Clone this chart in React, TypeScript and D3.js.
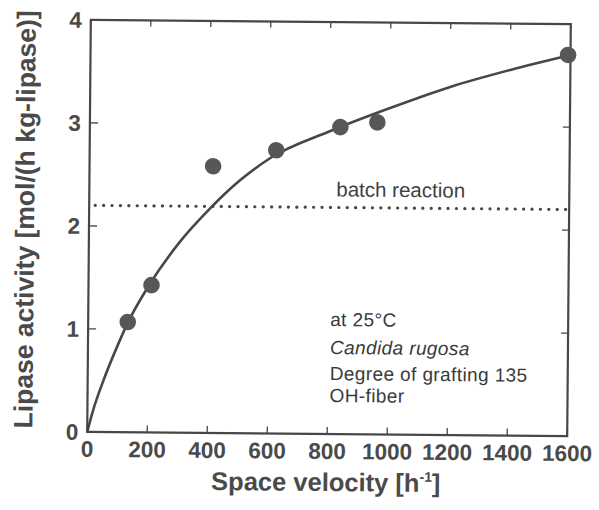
import React from 'react';
import * as d3 from 'd3';

const W = 599;
const H = 510;

// measured points (space velocity h^-1, lipase activity)
const pointX = [132, 210, 412, 622, 835, 958, 1592];
const pointY = [1.07, 1.43, 2.59, 2.75, 2.98, 3.03, 3.7];

// fitted curve
const curveX = [0, 20, 50, 100, 130, 200, 300, 400, 500, 600, 800, 1000, 1200, 1400, 1600];
const curveY = [0, 0.22, 0.48, 0.85, 1.05, 1.42, 1.84, 2.17, 2.45, 2.67, 2.94, 3.17, 3.38, 3.55, 3.7];

const batchLevel = 2.2;

const xTicks = [0, 200, 400, 600, 800, 1000, 1200, 1400, 1600];
const yTicks = [0, 1, 2, 3, 4];

const notes = ['at 25\u00B0C', 'Candida rugosa', 'Degree of grafting 135', 'OH-fiber'];
const noteY = [326, 354, 380, 402];

const m = { left: 89, right: 569, top: 22, bottom: 434 };
const ink = '#474747';
const font = '"Liberation Sans", Arial, Helvetica, sans-serif';

export default function App() {
  const x = d3.scaleLinear().domain([0, 1600]).range([m.left, m.right]);
  const y = d3.scaleLinear().domain([0, 4]).range([m.bottom, m.top]);

  const line = d3.line<number>()
    .x((d, i) => x(curveX[i]))
    .y(d => y(d))
    .curve(d3.curveMonotoneX);

  const cx = (m.left + m.right) / 2;
  const cy = (m.top + m.bottom) / 2;

  return (
    <svg width={W} height={H} style={{ position: 'absolute', left: 0, top: 0, background: '#fff' }}
      fontFamily={font}>
      <g transform={`rotate(0.5 ${cx} ${cy})`}>
        {/* frame */}
        <rect x={m.left} y={m.top} width={m.right - m.left} height={m.bottom - m.top}
          fill="none" stroke={ink} strokeWidth={2.2} />

        {/* x ticks, bottom and top, inside */}
        {xTicks.map(t => (
          <g key={'xt' + t}>
            <line x1={x(t)} x2={x(t)} y1={m.bottom} y2={m.bottom - 7} stroke={ink} strokeWidth={1.3} />
            <line x1={x(t)} x2={x(t)} y1={m.top} y2={m.top + 6} stroke={ink} strokeWidth={1.3} />
            <text x={x(t)} y={459} textAnchor="middle" fontSize={22.5} fontWeight="bold" fill="#4a4a4a">{t}</text>
          </g>
        ))}

        {/* y ticks, left and right, inside */}
        {yTicks.map(t => (
          <g key={'yt' + t}>
            <line x1={m.left} x2={m.left + 8} y1={y(t)} y2={y(t)} stroke={ink} strokeWidth={1.3} />
            <line x1={m.right} x2={m.right - 7} y1={y(t)} y2={y(t)} stroke={ink} strokeWidth={1.3} />
            <text x={80} y={y(t) + 8} textAnchor="end" fontSize={22.5} fontWeight="bold" fill="#4a4a4a">{t}</text>
          </g>
        ))}

        {/* batch reaction reference */}
        <line x1={x(0) + 6} x2={x(1600) - 2} y1={y(batchLevel)} y2={y(batchLevel)}
          stroke={ink} strokeWidth={3.2} strokeDasharray="0.1 8.3" strokeLinecap="round" />
        <text x={336} y={y(batchLevel) - 11} fontSize={20.5} fill="#3f3f3f">batch reaction</text>

        {/* fitted curve */}
        <path d={line(curveY) || ''} fill="none" stroke={ink} strokeWidth={2.6} />

        {/* points */}
        {pointX.map((v, i) => (
          <circle key={'p' + i} cx={x(v)} cy={y(pointY[i])} r={8.3} fill="#575757" />
        ))}

        {/* notes */}
        {notes.map((s, i) => (
          <text key={'n' + i} x={331} y={noteY[i]} fontSize={19} letterSpacing={0.4} fill="#3a3a3a"
            fontStyle={i === 1 ? 'italic' : 'normal'}>{s}</text>
        ))}

        {/* axis titles */}
        <text x={328} y={491} textAnchor="middle" fontSize={25.5} fontWeight="bold" fill="#4a4a4a">
          Space velocity [h<tspan fontSize={14} dy={-10}>-1</tspan><tspan dy={10}>]</tspan>
        </text>
        <text transform={`translate(34 ${222}) rotate(-90)`} textAnchor="middle" fontSize={26.5}
          fontWeight="bold" fill="#4a4a4a">
          Lipase activity [mol/(h kg-lipase)]
        </text>
      </g>
    </svg>
  );
}
